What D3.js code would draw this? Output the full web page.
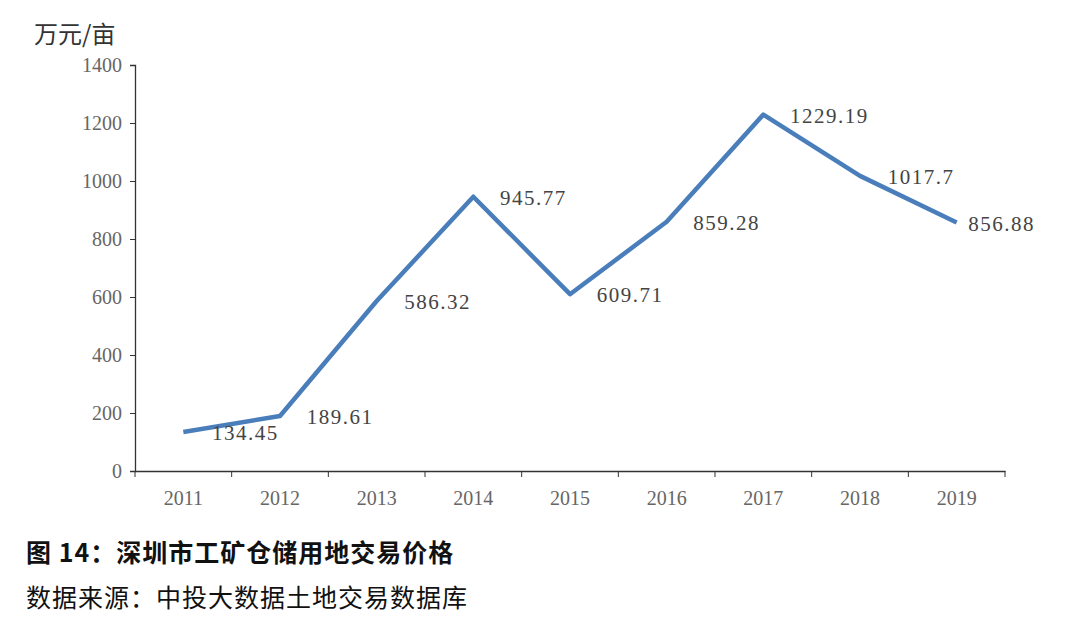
<html>
<script src="https://d3js.org/d3.v7.min.js"></script>
<body style="margin:0;background:#fff">
<svg width="1080" height="633"></svg>
<script>
var years = ["2011","2012","2013","2014","2015","2016","2017","2018","2019"];
var prices = [134.45, 189.61, 586.32, 945.77, 609.71, 859.28, 1229.19, 1017.7, 856.88];
var labels = ["134.45","189.61","586.32","945.77","609.71","859.28","1229.19","1017.7","856.88"];
var yTicks = [0,200,400,600,800,1000,1200,1400];
// label offsets from the point
var offX = [62, 60, 61, 60, 60, 60, 66, 61, 45];

var svg = d3.select("svg");
var x = d3.scaleBand().domain(years).range([135, 1005]);
var y = d3.scaleLinear().domain([0,1400]).range([471, 65]);

svg.append("g").attr("transform","translate(135,0)")
  .call(d3.axisLeft(y).tickValues(yTicks).tickFormat(d3.format("d")).tickSize(5).tickPadding(8));
var xa = svg.append("g").attr("transform","translate(0,471)")
  .call(d3.axisBottom(x).tickSize(0).tickPadding(20));
xa.selectAll(".tick").append("line").attr("x1", -x.bandwidth()/2).attr("x2", -x.bandwidth()/2)
  .attr("y2", 6).attr("stroke","#333");
xa.append("line").attr("x1",1005).attr("x2",1005).attr("y2",6).attr("stroke","#333");
svg.selectAll(".domain").attr("stroke","#333").attr("stroke-width",1.3);
svg.selectAll(".tick line").attr("stroke","#333");
svg.selectAll(".tick text").attr("font-family","Liberation Serif").attr("font-size",20).attr("fill","#666");

var line = d3.line().x(function(d,i){return x(years[i]) + x.bandwidth()/2;}).y(function(d){return y(d);});
svg.append("path").datum(prices).attr("d",line).attr("fill","none")
  .attr("stroke","#4a7ebb").attr("stroke-width",4.5).attr("stroke-linejoin","round");

svg.selectAll(".lbl").data(prices).enter().append("text")
  .attr("x", function(d,i){return x(years[i]) + x.bandwidth()/2 + offX[i];})
  .attr("y", function(d){return y(d) + 8;})
  .attr("text-anchor","middle").attr("font-family","Liberation Serif").attr("font-size",21)
  .attr("fill","#444").attr("letter-spacing",1.5)
  .text(function(d,i){return labels[i];});

svg.append("text").attr("x",34).attr("y",43).attr("font-family","Noto Sans CJK SC")
  .attr("font-size",24).attr("fill","#333").text("万元/亩");
svg.append("text").attr("x",26).attr("y",562).attr("font-family","Noto Sans CJK SC")
  .attr("font-weight","bold").attr("font-size",25).attr("letter-spacing",1).attr("fill","#111").text("图 14：深圳市工矿仓储用地交易价格");
svg.append("text").attr("x",26).attr("y",607).attr("font-family","Noto Sans CJK SC")
  .attr("font-size",25).attr("letter-spacing",1).attr("fill","#111").text("数据来源：中投大数据土地交易数据库");
</script>
</body>
</html>
